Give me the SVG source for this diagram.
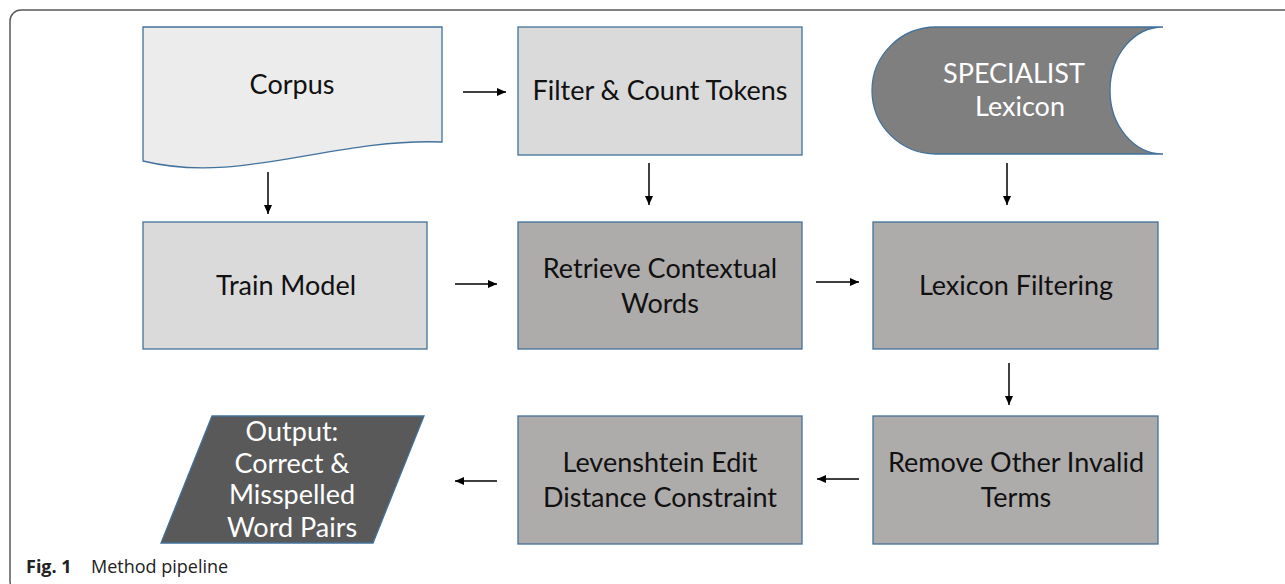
<svg xmlns="http://www.w3.org/2000/svg" width="1285" height="584" viewBox="0 0 1285 584">
<style>
.frame{fill:none;stroke:#5a5a5a;stroke-width:1.5}
.box{stroke:#41719c;stroke-width:1.3}
.l1{fill:#ececec}
.l2{fill:#dadada}
.m{fill:#aeabab}
.d1{fill:#7f7f7f}
.d2{fill:#595959}
.t{font-family:Lato,"Open Sans",sans-serif;font-size:27px;text-anchor:middle;fill:#111}
.w{fill:#ffffff}
.cap{font-family:"Open Sans",sans-serif;font-size:18px;fill:#222}
.conn line{stroke:#000;stroke-width:1.5;marker-end:url(#ah)}
</style>
<defs>
<marker id="ah" markerUnits="userSpaceOnUse" markerWidth="10" markerHeight="9" refX="9" refY="4" orient="auto">
<path d="M0,0 L9,4 L0,8 Z" fill="#000"/>
</marker>
</defs>
<rect class="frame" x="10" y="10" width="1300" height="582" rx="11" ry="11"/>
<g id="corpus">
<path class="box l1" d="M143,27 H442 V142 C330,138 240,185 143,161 Z"/>
<text class="t" x="292" y="94">Corpus</text>
</g>
<g id="filter">
<rect class="box l2" x="518" y="27" width="284" height="128"/>
<text class="t" x="660" y="100">Filter &amp; Count Tokens</text>
</g>
<g id="lexicon">
<path class="box d1" d="M936,27 H1163 A53,63.5 0 0 0 1163,154 H936 A64,63.5 0 0 1 936,27 Z"/>
<text class="t w" x="1014" y="83">SPECIALIST</text>
<text class="t w" x="1020" y="116">Lexicon</text>
</g>
<g id="train">
<rect class="box l2" x="143" y="222" width="284" height="127"/>
<text class="t" x="286" y="295">Train Model</text>
</g>
<g id="retrieve">
<rect class="box m" x="518" y="222" width="284" height="127"/>
<text class="t" x="660" y="278">Retrieve Contextual</text>
<text class="t" x="660" y="313">Words</text>
</g>
<g id="lexfilter">
<rect class="box m" x="873" y="222" width="285" height="127"/>
<text class="t" x="1016" y="295">Lexicon Filtering</text>
</g>
<g id="remove">
<rect class="box m" x="873" y="416" width="285" height="128"/>
<text class="t" x="1016" y="472">Remove Other Invalid</text>
<text class="t" x="1016" y="507">Terms</text>
</g>
<g id="levenshtein">
<rect class="box m" x="518" y="416" width="284" height="128"/>
<text class="t" x="660" y="472">Levenshtein Edit</text>
<text class="t" x="660" y="507">Distance Constraint</text>
</g>
<g id="output">
<path class="box d2" d="M212,416 H424 L373,543 H161 Z"/>
<text class="t w" x="292" y="441">Output:</text>
<text class="t w" x="292" y="473">Correct &amp;</text>
<text class="t w" x="292" y="504">Misspelled</text>
<text class="t w" x="292" y="537">Word Pairs</text>
</g>
<g id="connectors" class="conn">
<line x1="463" y1="92" x2="506" y2="92"/>
<line x1="268" y1="172" x2="268" y2="214"/>
<line x1="649" y1="163" x2="649" y2="205"/>
<line x1="1007" y1="163" x2="1007" y2="205"/>
<line x1="455" y1="284" x2="497" y2="284"/>
<line x1="816" y1="282" x2="859" y2="282"/>
<line x1="1009" y1="363" x2="1009" y2="405"/>
<line x1="859" y1="479" x2="817" y2="479"/>
<line x1="497" y1="481" x2="455" y2="481"/>
</g>
<text class="cap" x="26" y="573"><tspan font-weight="bold">Fig. 1</tspan><tspan x="91">Method pipeline</tspan></text>
</svg>
